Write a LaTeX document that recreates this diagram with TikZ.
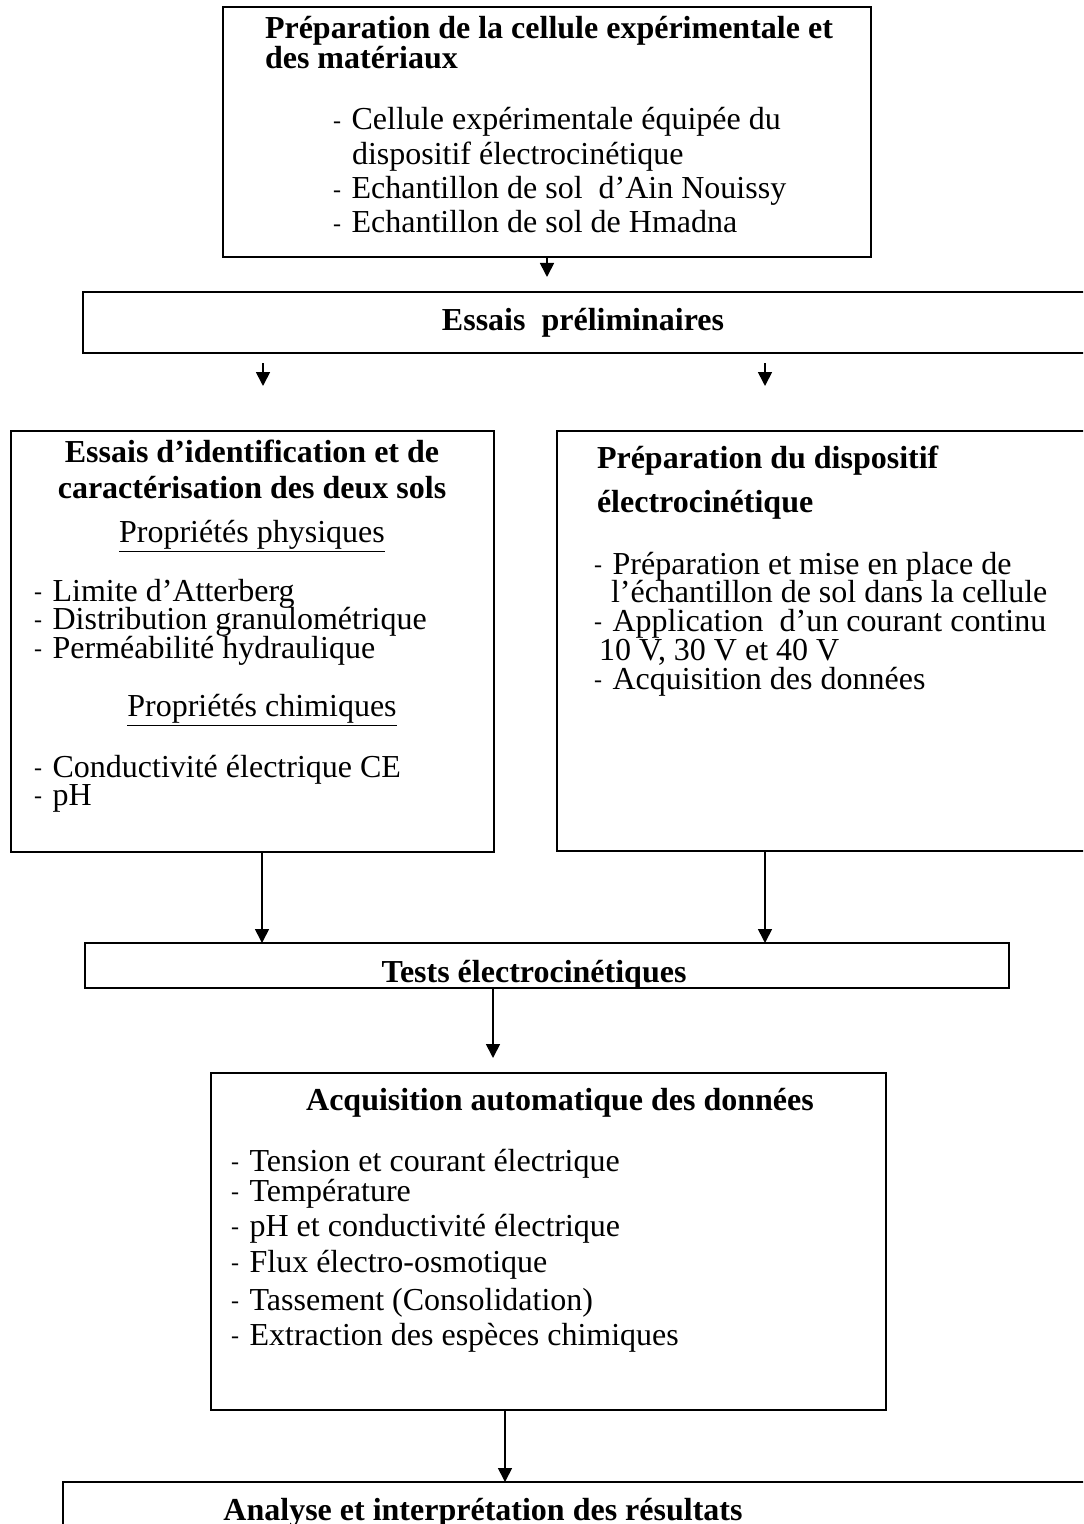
\documentclass[tikz,border=0pt]{standalone}
\usepackage{fontspec}
\setmainfont{Liberation Serif}
\usetikzlibrary{arrows.meta}
\newcommand\dsh{\makebox[9.3pt][l]{\raisebox{0.6pt}{\fontsize{12pt}{12pt}\selectfont -}}}
\begin{document}
\begin{tikzpicture}[x=0.5pt,y=-0.5pt,
  box/.style={draw, line width=1pt, rectangle, inner sep=0pt, outer sep=0pt},
  txt/.style={anchor=base west, inner sep=0pt, outer sep=0pt, font=\fontsize{16pt}{18pt}\selectfont},
  ctxt/.style={txt, anchor=base},
  btxt/.style={txt, font=\fontsize{16pt}{18pt}\selectfont\bfseries},
  cbtxt/.style={btxt, anchor=base},
  arr/.style={line width=0.85pt, -{Triangle[length=7pt,width=7pt]}}]
\useasboundingbox (0,0) rectangle (1083,1524);
\clip (0,0) rectangle (1083,1524);

% boxes
\node[box, minimum width=324pt, minimum height=125pt] (top) at (547,132) {};
\node[box, minimum width=501.5pt, minimum height=30.5pt] (ess) at (584.5,322.5) {};
\node[box, minimum width=241.5pt, minimum height=210.5pt] (left) at (252.5,641.5) {};
\node[box, minimum width=266.5pt, minimum height=210pt] (right) at (823.5,641) {};
\node[box, minimum width=462pt, minimum height=22.5pt] (tests) at (547,965.5) {};
\node[box, minimum width=337.5pt, minimum height=168.5pt] (acq) at (548.5,1241.5) {};
\node[box, minimum width=513.5pt, minimum height=39pt] (ana) at (576.5,1521) {};

% top box text
\node[btxt] (t1) at (265,39) {Préparation de la cellule expérimentale et};
\node[btxt] (t2) at (265,69) {des matériaux};
\node[txt] (t3) at (333,130) {\dsh Cellule expérimentale équipée du};
\node[txt] (t4) at (352,165) {dispositif électrocinétique};
\node[txt] (t5) at (333,199) {\dsh Echantillon de sol\ \ d’Ain Nouissy};
\node[txt] (t6) at (333,233) {\dsh Echantillon de sol de Hmadna};

% essais preliminaires
\node[cbtxt] (e1) at (583,331) {Essais\ \ préliminaires};

% left box text
\node[cbtxt] (l1) at (252,462) {Essais d’identification et de};
\node[cbtxt] (l2) at (252,498) {caractérisation des deux sols};
\node[ctxt] (l3) at (252,542) {\underline{Propriétés physiques}};
\node[txt] (l4) at (34,601) {\dsh Limite d’Atterberg};
\node[txt] (l5) at (34,629) {\dsh Distribution granulométrique};
\node[txt] (l6) at (34,658) {\dsh Perméabilité hydraulique};
\node[ctxt] (l7) at (262,716) {\underline{Propriétés chimiques}};
\node[txt] (l8) at (34,777) {\dsh Conductivité électrique CE};
\node[txt] (l9) at (34,805) {\dsh pH};

% right box text
\node[btxt] (r1) at (597,468) {Préparation du dispositif};
\node[btxt] (r2) at (597,512) {électrocinétique};
\node[txt] (r3) at (594,574) {\dsh Préparation et mise en place de};
\node[txt] (r4) at (611,602) {l’échantillon de sol dans la cellule};
\node[txt] (r5) at (594,631) {\dsh Application\ \ d’un courant continu};
\node[txt] (r6) at (599,660) {10 V, 30 V et 40 V};
\node[txt] (r7) at (594,689) {\dsh Acquisition des données};

% tests
\node[cbtxt] (s1) at (534,982) {Tests électrocinétiques};

% acquisition
\node[cbtxt] (q1) at (560,1110) {Acquisition automatique des données};
\node[txt] (q2) at (231,1171) {\dsh Tension et courant électrique};
\node[txt] (q3) at (231,1201) {\dsh Température};
\node[txt] (q4) at (231,1236) {\dsh pH et conductivité électrique};
\node[txt] (q5) at (231,1272) {\dsh Flux électro-osmotique};
\node[txt] (q6) at (231,1310) {\dsh Tassement (Consolidation)};
\node[txt] (q7) at (231,1345) {\dsh Extraction des espèces chimiques};

% analyse
\node[cbtxt] (n1) at (483,1520) {Analyse et interprétation des résultats};

% connectors
\coordinate (a1) at (547,277);
\draw[arr] (top.south) -- (a1);
\coordinate (e1s) at (263,363);
\coordinate (e1t) at (263,386);
\coordinate (e2s) at (765,363);
\coordinate (e2t) at (765,386);
\draw[arr] (e1s) -- (e1t);
\draw[arr] (e2s) -- (e2t);
\coordinate (lx) at (262,0);
\coordinate (rx) at (765,0);
\draw[arr] (left.south -| lx) -- (tests.north -| lx);
\draw[arr] (right.south -| rx) -- (tests.north -| rx);
\coordinate (ax) at (493,1058);
\draw[arr] (tests.south -| ax) -- (ax);
\coordinate (bx) at (505,0);
\draw[arr] (acq.south -| bx) -- (ana.north -| bx);
\end{tikzpicture}
\end{document}
